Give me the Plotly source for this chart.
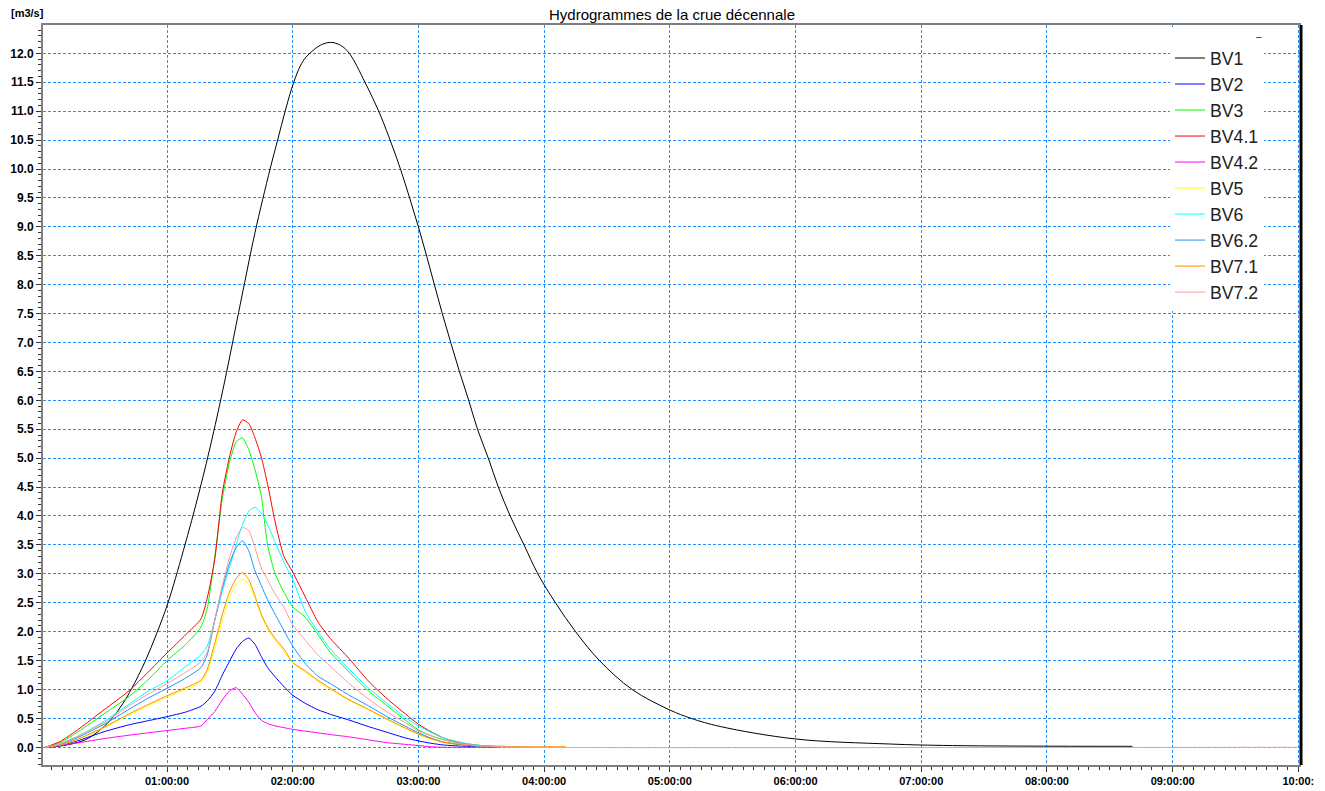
import pandas as pd
import plotly.graph_objects as go

# ---------------- data (time in hours, discharge in m3/s) ----------------
T_SUB = [0.03, 0.15, 0.3, 0.5, 0.7, 0.85, 1.0, 1.15, 1.27, 1.32, 1.38, 1.44, 1.5, 1.55,
         1.6, 1.65, 1.7, 1.75, 1.8, 1.86, 1.93, 2.0, 2.1, 2.2, 2.3, 2.45, 2.6, 2.75,
         2.9, 3.0, 3.1, 3.2, 3.35, 3.5, 3.64]

T_BV1 = [0.03, 0.1, 0.2, 0.35, 0.45, 0.55, 0.65, 0.72, 0.825, 0.92, 1.005, 1.13, 1.26,
         1.36, 1.456, 1.605, 1.7, 1.82, 1.88, 1.94, 2.005, 2.06, 2.1, 2.146, 2.22, 2.3,
         2.38, 2.45, 2.575, 2.69, 2.795, 2.86, 2.93, 3.0, 3.066, 3.127, 3.19, 3.257,
         3.326, 3.4, 3.47, 3.556, 3.636, 3.73, 3.84, 3.95, 4.09, 4.25, 4.44, 4.70, 5.0,
         5.17, 5.4, 6.0, 6.75, 7.25, 8.68]
BV1 = [0.0, 0.01, 0.04, 0.13, 0.27, 0.47, 0.76, 1.02, 1.48, 1.98, 2.48, 3.4, 4.45,
       5.35, 6.3, 7.9, 8.9, 10.0, 10.5, 11.0, 11.48, 11.78, 11.92, 12.02, 12.14, 12.19,
       12.14, 12.0, 11.5, 10.97, 10.38, 9.98, 9.5, 9.0, 8.49, 8.0, 7.5, 7.0,
       6.5, 6.0, 5.5, 5.0, 4.5, 4.0, 3.5, 3.0, 2.5, 2.0, 1.5, 1.0, 0.645,
       0.5, 0.36, 0.144, 0.057, 0.03, 0.017]

BV2 = [0.0, 0.03, 0.12, 0.27, 0.39, 0.46, 0.53, 0.61, 0.71, 0.8, 0.97, 1.25, 1.5, 1.7,
       1.83, 1.89, 1.78, 1.57, 1.38, 1.22, 1.05, 0.9, 0.76, 0.65, 0.57, 0.47, 0.36, 0.26,
       0.16, 0.11, 0.07, 0.04, 0.02, 0.01, 0.0]
BV3 = [0.0, 0.08, 0.28, 0.58, 0.88, 1.17, 1.5, 1.78, 2.08, 2.4, 3.3, 4.3, 4.95, 5.28,
       5.35, 5.15, 4.8, 4.35, 3.5, 3.0, 2.68, 2.43, 2.25, 1.95, 1.64, 1.3, 0.98, 0.72,
       0.46, 0.3, 0.2, 0.13, 0.06, 0.02, 0.01]
BV41 = [0.0, 0.1, 0.32, 0.65, 0.98, 1.3, 1.63, 1.95, 2.22, 2.58, 3.25, 4.4, 5.05, 5.45,
        5.66, 5.6, 5.35, 5.02, 4.55, 3.9, 3.3, 3.03, 2.6, 2.17, 1.88, 1.53, 1.15, 0.84,
        0.57, 0.4, 0.27, 0.16, 0.07, 0.03, 0.01]
BV42 = [0.0, 0.03, 0.08, 0.15, 0.21, 0.25, 0.29, 0.33, 0.37, 0.48, 0.62, 0.82, 0.98, 1.03,
        0.92, 0.78, 0.6, 0.47, 0.41, 0.37, 0.34, 0.31, 0.28, 0.25, 0.22, 0.18, 0.13, 0.08,
        0.05, 0.03, 0.01, 0.0, 0.0, 0.0, 0.0]
BV5 = [0.0, 0.04, 0.14, 0.34, 0.56, 0.72, 0.87, 1.0, 1.13, 1.3, 1.72, 2.2, 2.6, 2.82,
       2.91, 2.82, 2.58, 2.28, 2.05, 1.86, 1.66, 1.46, 1.3, 1.14, 1.0, 0.81, 0.65, 0.48,
       0.32, 0.22, 0.14, 0.08, 0.04, 0.02, 0.01]
BV6 = [0.0, 0.06, 0.2, 0.45, 0.75, 0.97, 1.15, 1.4, 1.6, 1.75, 2.2, 2.7, 3.13, 3.5,
       3.85, 4.08, 4.15, 4.05, 3.85, 3.55, 3.2, 2.9, 2.35, 2.0, 1.7, 1.35, 1.03, 0.76,
       0.51, 0.37, 0.26, 0.16, 0.08, 0.03, 0.01]
T_BV62 = T_SUB + [3.9]
BV62 = [0.0, 0.05, 0.18, 0.4, 0.66, 0.85, 1.02, 1.2, 1.38, 1.6, 2.2, 2.75, 3.2, 3.45,
        3.57, 3.4, 3.05, 2.8, 2.55, 2.3, 2.02, 1.75, 1.45, 1.23, 1.1, 0.9, 0.72, 0.53,
        0.36, 0.25, 0.16, 0.09, 0.04, 0.02, 0.01, 0.0]
T_BV71 = T_SUB + [3.8, 4.17]
BV71 = [0.0, 0.04, 0.15, 0.35, 0.58, 0.74, 0.89, 1.03, 1.16, 1.35, 1.8, 2.3, 2.7, 2.92,
        3.02, 2.9, 2.62, 2.3, 2.08, 1.88, 1.7, 1.47, 1.32, 1.16, 1.02, 0.82, 0.66, 0.49,
        0.33, 0.23, 0.15, 0.09, 0.05, 0.03, 0.02, 0.01, 0.01]
T_BV72 = T_SUB + [3.8, 10.0]
BV72 = [0.0, 0.06, 0.2, 0.43, 0.72, 0.92, 1.1, 1.3, 1.48, 1.65, 2.2, 2.8, 3.3, 3.62,
        3.8, 3.75, 3.45, 3.1, 2.9, 2.65, 2.42, 2.12, 1.85, 1.6, 1.4, 1.1, 0.84, 0.61,
        0.42, 0.28, 0.2, 0.13, 0.06, 0.02, 0.01, 0.0, 0.0]

SERIES_NAMES = ["BV1", "BV2", "BV3", "BV4.1", "BV4.2", "BV5", "BV6", "BV6.2", "BV7.1", "BV7.2"]
SERIES_TIMES = [T_BV1, T_SUB, T_SUB, T_SUB, T_SUB, T_SUB, T_SUB, T_BV62, T_BV71, T_BV72]
SERIES_VALUES = [BV1, BV2, BV3, BV41, BV42, BV5, BV6, BV62, BV71, BV72]
SERIES_COLORS = ["#000000", "#0000ff", "#00ff00", "#ff0000", "#ff00ff", "#ffff00",
                 "#00ffff", "#1e90ff", "#ff8c00", "#ff9999"]

X_TICK_HOURS = [1, 2, 3, 4, 5, 6, 7, 8, 9, 10]
X_TICK_LABELS = ["01:00:00", "02:00:00", "03:00:00", "04:00:00", "05:00:00",
                 "06:00:00", "07:00:00", "08:00:00", "09:00:00", "10:00:"]

BASE = pd.Timestamp("2000-01-01 00:00:00")


def to_dt(hours):
    return [BASE + pd.Timedelta(hours=h) for h in hours]


FONT = "Liberation Sans, Arial, sans-serif"
GRID = "#1e90ff"

fig = go.Figure()
for name, tt, vv, col in zip(SERIES_NAMES, SERIES_TIMES, SERIES_VALUES, SERIES_COLORS):
    smooth = 1.0 if name == "BV1" else 0.6
    fig.add_trace(go.Scatter(x=to_dt(tt), y=vv, mode="lines", name=name,
                             line=dict(color=col, width=1, shape="spline", smoothing=smooth)))

fig.update_layout(
    template="none",
    width=1325, height=791,
    margin=dict(l=43, r=24, t=25, b=26, pad=0),
    paper_bgcolor="white", plot_bgcolor="white",
    title=dict(text="Hydrogrammes de la crue décennale", x=0.5, xref="paper", xanchor="center",
               y=1 - 15 / 791, yref="container", yanchor="middle",
               font=dict(family=FONT, size=15, color="black")),
    showlegend=True,
    legend=dict(x=(1170 - 43) / 1258, y=(765 - 27) / 740, xanchor="left", yanchor="top",
                bgcolor="white", borderwidth=0, itemwidth=30,
                font=dict(family=FONT, size=17.7, color="#222222"),
                title=dict(text="–", side="top right", font=dict(family=FONT, size=10, color="#222222"))),
    annotations=[dict(text="<b>[m3/s]</b>", xref="paper", yref="paper",
                      x=(27.5 - 43) / 1258, y=(765 - 13) / 740, xanchor="center", yanchor="middle",
                      showarrow=False, font=dict(family=FONT, size=11, color="black"))],
    shapes=[dict(type="line", xref="paper", yref="paper", x0=1, x1=1, y0=0, y1=1,
                 line=dict(color="black", width=3))],
)

fig.update_xaxes(
    type="date",
    range=to_dt([0.0135, 10.021]),
    tickmode="array", tickvals=to_dt(X_TICK_HOURS), ticktext=X_TICK_LABELS,
    showgrid=True, gridcolor=GRID, gridwidth=1, griddash="3px,2px",
    showline=True, linecolor="#7f7f7f", linewidth=2, mirror=True,
    ticks="outside", ticklen=5, tickwidth=1, tickcolor="#333333",
    tickfont=dict(family=FONT, size=11, color="black", weight="bold"),
    zeroline=False, automargin=False,
    minor=dict(tickmode="linear", tick0=BASE, dtick=300000, ticks="outside", ticklen=3,
               tickcolor="#333333", showgrid=False),
)
fig.update_yaxes(
    range=[-0.306, 12.49],
    tickmode="linear", tick0=0, dtick=0.5, tickformat=".1f",
    showgrid=True, gridcolor=GRID, gridwidth=1, griddash="3px,2px",
    showline=True, linecolor="#7f7f7f", linewidth=2,
    ticks="outside", ticklen=5, tickwidth=1, tickcolor="#333333",
    tickfont=dict(family=FONT, size=12, color="black", weight="bold"),
    zeroline=False, automargin=False,
    minor=dict(dtick=0.1, tick0=0, ticks="outside", ticklen=3, tickcolor="#333333", showgrid=False),
)

fig.write_html("out.html")
